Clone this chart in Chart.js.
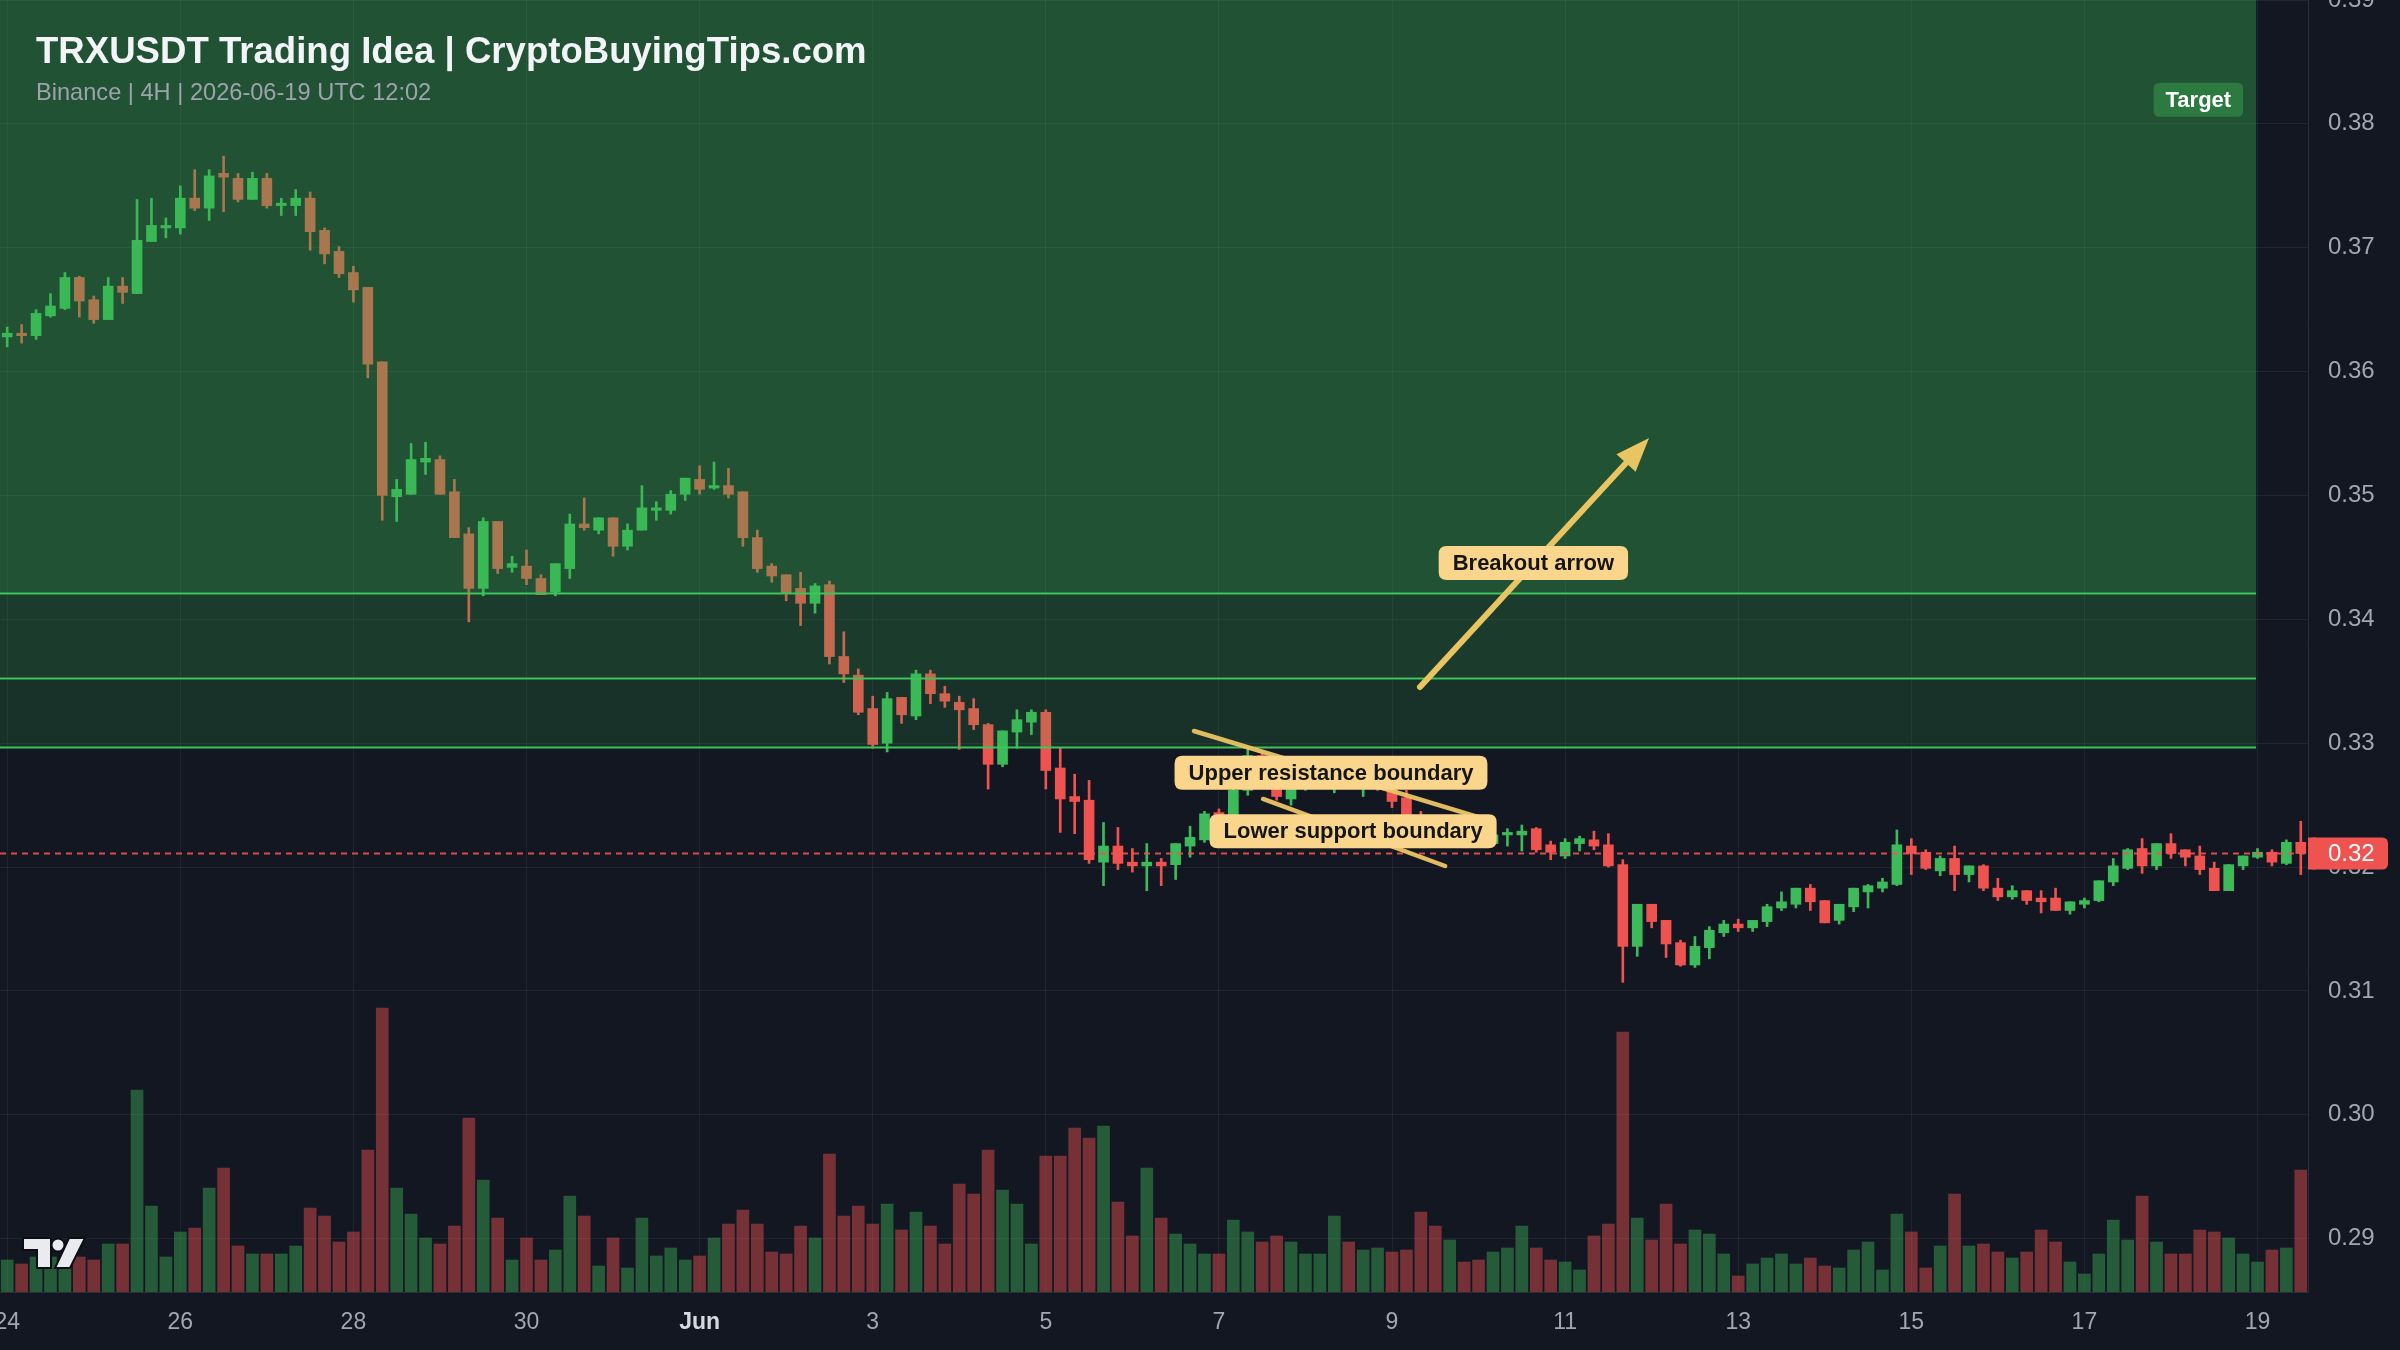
<!DOCTYPE html>
<html><head><meta charset="utf-8">
<script src="https://cdn.jsdelivr.net/npm/chart.js@4.4.1/dist/chart.umd.min.js"></script>
<style>html,body{margin:0;padding:0;background:#131722;overflow:hidden}#wrap{width:2400px;height:1350px;position:relative}canvas{display:block}</style>
</head><body><div id="wrap"><canvas id="c" width="2400" height="1350"></canvas></div>
<script>
// ---------- DATA ----------
const startUTC = Date.UTC(2026, 4, 24, 0, 0); // first 4H candle
const open = [
0.3628,0.3631,0.3629,0.3645,0.3651,0.3676,0.3658,0.3642,0.3669,0.3663,
0.3705,0.3716,0.3716,0.3740,0.3732,0.3760,0.3756,0.3739,0.3756,0.3734,
0.3734,0.3740,0.3714,0.3697,0.3680,0.3668,0.3608,0.3499,0.3501,0.3527,
0.3529,0.3503,0.3469,0.3425,0.3479,0.3442,0.3443,0.3433,0.3422,0.3441,
0.3477,0.3472,0.3482,0.3459,0.3472,0.3488,0.3488,0.3501,0.3513,0.3506,
0.3508,0.3503,0.3466,0.3443,0.3436,0.3425,0.3413,0.3428,0.3370,0.3355,
0.3328,0.3300,0.3337,0.3322,0.3356,0.3340,0.3333,0.3328,0.3315,0.3283,
0.3309,0.3317,0.3325,0.3280,0.3257,0.3254,0.3204,0.3217,0.3204,0.3201,
0.3204,0.3202,0.3217,0.3222,0.3244,0.3230,0.3262,0.3290,0.3278,0.3255,
0.3270,0.3274,0.3272,0.3278,0.3268,0.3272,0.3270,0.3256,0.3236,0.3227,
0.3221,0.3228,0.3223,0.3219,0.3226,0.3226,0.3231,0.3218,0.3209,0.3219,
0.3222,0.3218,0.3202,0.3136,0.3170,0.3157,0.3139,0.3121,0.3135,0.3147,
0.3154,0.3151,0.3156,0.3167,0.3170,0.3183,0.3173,0.3157,0.3168,0.3180,
0.3183,0.3186,0.3217,0.3212,0.3197,0.3207,0.3194,0.3201,0.3183,0.3176,
0.3181,0.3175,0.3175,0.3165,0.3170,0.3173,0.3188,0.3199,0.3215,0.3201,
0.3219,0.3214,0.3209,0.3199,0.3181,0.3201,0.3208,0.3212,0.3203,0.3220];
const high = [
0.3636,0.3638,0.3650,0.3663,0.3680,0.3677,0.3661,0.3676,0.3676,0.3739,
0.3740,0.3724,0.3750,0.3763,0.3763,0.3774,0.3760,0.3761,0.3760,0.3740,
0.3747,0.3745,0.3716,0.3701,0.3685,0.3668,0.3608,0.3513,0.3542,0.3543,
0.3532,0.3513,0.3474,0.3482,0.3479,0.3451,0.3456,0.3436,0.3445,0.3485,
0.3498,0.3482,0.3482,0.3477,0.3508,0.3495,0.3504,0.3514,0.3524,0.3527,
0.3522,0.3503,0.3472,0.3445,0.3436,0.3438,0.3429,0.3431,0.3390,0.3360,
0.3338,0.3341,0.3337,0.3359,0.3359,0.3346,0.3338,0.3336,0.3316,0.3310,
0.3327,0.3327,0.3327,0.3296,0.3275,0.3270,0.3236,0.3232,0.3215,0.3219,
0.3207,0.3219,0.3233,0.3245,0.3247,0.3268,0.3296,0.3294,0.3282,0.3280,
0.3283,0.3285,0.3284,0.3283,0.3281,0.3282,0.3274,0.3262,0.3245,0.3232,
0.3233,0.3231,0.3227,0.3230,0.3231,0.3234,0.3232,0.3221,0.3223,0.3225,
0.3229,0.3227,0.3206,0.3170,0.3170,0.3157,0.3141,0.3144,0.3152,0.3157,
0.3158,0.3157,0.3170,0.3180,0.3183,0.3186,0.3173,0.3170,0.3183,0.3186,
0.3191,0.3230,0.3223,0.3214,0.3209,0.3217,0.3201,0.3202,0.3191,0.3185,
0.3181,0.3181,0.3183,0.3172,0.3175,0.3189,0.3207,0.3215,0.3223,0.3219,
0.3227,0.3214,0.3217,0.3204,0.3202,0.3209,0.3215,0.3214,0.3222,0.3237];
const low = [
0.3620,0.3623,0.3626,0.3644,0.3650,0.3644,0.3639,0.3642,0.3655,0.3663,
0.3705,0.3708,0.3711,0.3730,0.3722,0.3729,0.3737,0.3739,0.3732,0.3726,
0.3726,0.3698,0.3687,0.3676,0.3656,0.3595,0.3480,0.3479,0.3501,0.3517,
0.3501,0.3466,0.3398,0.3419,0.3437,0.3438,0.3428,0.3420,0.3419,0.3433,
0.3472,0.3469,0.3451,0.3456,0.3472,0.3480,0.3485,0.3496,0.3501,0.3505,
0.3498,0.3459,0.3438,0.3430,0.3415,0.3395,0.3405,0.3364,0.3349,0.3323,
0.3296,0.3293,0.3316,0.3319,0.3332,0.3329,0.3295,0.3311,0.3263,0.3281,
0.3296,0.3307,0.3263,0.3228,0.3227,0.3203,0.3185,0.3198,0.3196,0.3181,
0.3185,0.3190,0.3208,0.3220,0.3225,0.3226,0.3258,0.3273,0.3254,0.3250,
0.3262,0.3268,0.3260,0.3266,0.3257,0.3262,0.3248,0.3232,0.3220,0.3217,
0.3218,0.3219,0.3216,0.3217,0.3217,0.3213,0.3212,0.3206,0.3207,0.3213,
0.3214,0.3200,0.3107,0.3128,0.3151,0.3127,0.3120,0.3119,0.3126,0.3144,
0.3148,0.3148,0.3152,0.3165,0.3167,0.3165,0.3155,0.3154,0.3164,0.3167,
0.3180,0.3185,0.3194,0.3198,0.3193,0.3181,0.3188,0.3181,0.3173,0.3174,
0.3170,0.3163,0.3165,0.3162,0.3167,0.3172,0.3185,0.3198,0.3195,0.3198,
0.3207,0.3201,0.3194,0.3181,0.3181,0.3198,0.3207,0.3201,0.3202,0.3194];
const close = [
0.3631,0.3629,0.3647,0.3653,0.3676,0.3657,0.3642,0.3669,0.3664,0.3706,
0.3718,0.3718,0.3740,0.3732,0.3758,0.3757,0.3739,0.3756,0.3734,0.3736,
0.3740,0.3713,0.3695,0.3679,0.3666,0.3606,0.3500,0.3505,0.3529,0.3530,
0.3501,0.3466,0.3425,0.3479,0.3441,0.3445,0.3433,0.3420,0.3445,0.3477,
0.3474,0.3482,0.3459,0.3472,0.3490,0.3490,0.3501,0.3514,0.3505,0.3508,
0.3501,0.3466,0.3441,0.3435,0.3421,0.3413,0.3427,0.3370,0.3356,0.3325,
0.3299,0.3336,0.3323,0.3356,0.3340,0.3334,0.3327,0.3315,0.3283,0.3310,
0.3319,0.3325,0.3278,0.3255,0.3253,0.3206,0.3217,0.3203,0.3201,0.3204,
0.3201,0.3219,0.3224,0.3243,0.3228,0.3262,0.3290,0.3278,0.3257,0.3275,
0.3277,0.3279,0.3278,0.3272,0.3276,0.3277,0.3253,0.3236,0.3226,0.3221,
0.3228,0.3223,0.3219,0.3226,0.3228,0.3229,0.3214,0.3212,0.3220,0.3223,
0.3217,0.3201,0.3136,0.3170,0.3156,0.3138,0.3121,0.3136,0.3149,0.3154,
0.3151,0.3157,0.3168,0.3172,0.3183,0.3172,0.3155,0.3170,0.3183,0.3185,
0.3188,0.3218,0.3211,0.3199,0.3207,0.3194,0.3201,0.3183,0.3176,0.3181,
0.3173,0.3172,0.3165,0.3172,0.3173,0.3189,0.3201,0.3214,0.3201,0.3219,
0.3211,0.3208,0.3198,0.3181,0.3202,0.3209,0.3212,0.3204,0.3220,0.3211];
const volume = [ // millions TRX (est.)
3.2,2.8,3.5,3.5,3.3,3.5,3.2,4.8,4.8,20.2,
8.6,3.5,6.0,6.4,10.4,12.4,4.6,3.8,3.8,3.8,
4.6,8.4,7.6,5.0,6.0,14.2,28.4,10.4,7.8,5.4,
4.8,6.6,17.4,11.2,7.4,3.2,5.4,3.2,4.2,9.6,
7.6,2.6,5.4,2.4,7.4,3.6,4.4,3.2,3.6,5.4,
6.8,8.2,6.8,4.0,3.8,6.6,5.4,13.8,7.6,8.6,
6.8,8.8,6.2,8.0,6.6,4.8,10.8,9.8,14.2,10.2,
8.8,4.8,13.6,13.6,16.4,15.4,16.6,9.0,5.6,12.4,
7.4,5.8,4.8,3.8,3.8,7.2,6.0,5.0,5.6,5.0,
3.8,3.8,7.6,5.0,4.2,4.4,4.0,4.2,8.0,6.6,
5.2,3.0,3.2,4.0,4.4,6.6,4.4,3.2,3.0,2.2,
5.6,6.8,26.0,7.4,5.2,8.8,4.8,6.2,5.8,3.8,
1.6,2.8,3.4,3.8,2.8,3.4,2.6,2.4,4.2,5.0,
2.2,7.8,6.0,2.4,4.6,9.8,4.6,4.8,4.0,3.4,
4.0,6.2,5.0,3.0,1.8,3.8,7.2,5.2,9.6,5.0,
3.8,3.8,6.2,6.0,5.4,3.8,3.0,4.2,4.4,12.2];
const dayTickLabels = ['24','26','28','30','Jun','3','5','7','9','11','13','15','17','19'];
const priceTicks = [0.29,0.30,0.31,0.32,0.33,0.34,0.35,0.36,0.37,0.38,0.39];
const priceRange = [0.2857, 0.39];
const volumeMax = 129.2;
// zones / levels / annotations (data coordinates: candle index, price)
const zoneBands = [[0.3421, 0.39], [0.3353, 0.3421], [0.3297, 0.3353]];
const levelLines = [0.3421, 0.3353, 0.3297];
const zoneEndIndex = 155.9;
const targetLabel = {text:'Target', at:[151.9, 0.38195]};
const boundaryLines = [[[82.27,0.33099],[102.45,0.32388]], [[87.06,0.32550],[99.68,0.32009]]];
const breakoutArrow = [[97.94,0.33454],[113.82,0.35464]];
const noteLabels = [
  {text:'Breakout arrow', at:[105.8,0.34455]},
  {text:'Upper resistance boundary', at:[91.77,0.32762]},
  {text:'Lower support boundary', at:[93.3,0.32290]}
];
const titleText = 'TRXUSDT Trading Idea | CryptoBuyingTips.com';
const subtitleText = 'Binance | 4H | 2026-06-19 UTC 12:02';

// ---------- BUILD ----------
const FONT = '"Liberation Sans", Arial, Helvetica, sans-serif';
const N = open.length;
const timeLabels = Array.from({length:N}, (_,i)=> new Date(startUTC + i*4*3600e3).toISOString().slice(0,16).replace('T',' '));
const UP = '#3dbb5a', DOWN = '#ef5350';
const isUp = open.map((o,i)=> close[i] >= o);
const candleColors = isUp.map(u=> u ? UP : DOWN);
const volColors = isUp.map(u=> u ? 'rgba(61,187,90,0.42)' : 'rgba(239,83,80,0.45)');
const zoneAlphas = [0.38, 0.23, 0.17];

function roundRect(ctx, x, y, w, h, r){
  ctx.beginPath();
  ctx.moveTo(x+r, y); ctx.lineTo(x+w-r, y); ctx.quadraticCurveTo(x+w, y, x+w, y+r);
  ctx.lineTo(x+w, y+h-r); ctx.quadraticCurveTo(x+w, y+h, x+w-r, y+h);
  ctx.lineTo(x+r, y+h); ctx.quadraticCurveTo(x, y+h, x, y+h-r);
  ctx.lineTo(x, y+r); ctx.quadraticCurveTo(x, y, x+r, y); ctx.closePath();
}

const overlay = {
  id:'overlay',
  afterDatasetsDraw(chart){
    const {ctx, chartArea:a, scales:{x, y}} = chart;
    const px = v => x.getPixelForValue(v), py = v => y.getPixelForValue(v);
    const xEnd = px(zoneEndIndex);
    ctx.save();
    ctx.beginPath(); ctx.rect(a.left, a.top, a.right-a.left, a.bottom-a.top); ctx.clip();
    zoneBands.forEach((b,i)=>{
      ctx.fillStyle = `rgba(56,180,80,${zoneAlphas[i]})`;
      const y1 = py(b[1]), y2 = py(b[0]);
      ctx.fillRect(a.left, y1, xEnd-a.left, y2-y1);
    });
    ctx.strokeStyle = '#3fc45c'; ctx.lineWidth = 2;
    levelLines.forEach(p=>{ const yy = Math.round(py(p))+0.5; ctx.beginPath(); ctx.moveTo(a.left, yy); ctx.lineTo(xEnd, yy); ctx.stroke(); });
    const lastY = Math.round(py(close[N-1]))+0.5;
    ctx.strokeStyle = 'rgba(239,83,80,0.9)'; ctx.lineWidth = 2; ctx.setLineDash([6,5]);
    ctx.beginPath(); ctx.moveTo(a.left, lastY); ctx.lineTo(a.right, lastY); ctx.stroke();
    ctx.setLineDash([]);
    ctx.font = `bold 22px ${FONT}`;
    let tw = ctx.measureText(targetLabel.text).width;
    let cx = px(targetLabel.at[0]), cy = py(targetLabel.at[1]);
    ctx.fillStyle = '#2c7a40'; roundRect(ctx, cx-tw/2-12, cy-17, tw+24, 34, 6); ctx.fill();
    ctx.fillStyle = '#ffffff'; ctx.textAlign='center'; ctx.textBaseline='middle'; ctx.fillText(targetLabel.text, cx, cy+1);
    ctx.strokeStyle = 'rgba(236,196,100,0.95)'; ctx.lineWidth = 4.5; ctx.lineCap = 'round';
    boundaryLines.forEach(l=>{ ctx.beginPath(); ctx.moveTo(px(l[0][0]), py(l[0][1])); ctx.lineTo(px(l[1][0]), py(l[1][1])); ctx.stroke(); });
    const ax0 = px(breakoutArrow[0][0]), ay0 = py(breakoutArrow[0][1]);
    const ax1 = px(breakoutArrow[1][0]), ay1 = py(breakoutArrow[1][1]);
    const ang = Math.atan2(ay1-ay0, ax1-ax0), hl = 34, hw = 13;
    const bx = ax1 - hl*Math.cos(ang), by = ay1 - hl*Math.sin(ang);
    ctx.strokeStyle = '#e8c462'; ctx.lineWidth = 6;
    ctx.beginPath(); ctx.moveTo(ax0, ay0); ctx.lineTo(bx, by); ctx.stroke();
    ctx.fillStyle = '#e8c462';
    ctx.beginPath(); ctx.moveTo(ax1, ay1);
    ctx.lineTo(bx + hw*Math.sin(ang), by - hw*Math.cos(ang));
    ctx.lineTo(bx - hw*Math.sin(ang), by + hw*Math.cos(ang)); ctx.closePath(); ctx.fill();
    ctx.font = `bold 22px ${FONT}`;
    noteLabels.forEach(n=>{
      const w = ctx.measureText(n.text).width;
      const lx = px(n.at[0]), ly = py(n.at[1]);
      ctx.fillStyle = '#f9d68c'; roundRect(ctx, lx-w/2-14, ly-17, w+28, 34, 8); ctx.fill();
      ctx.fillStyle = '#151515'; ctx.textAlign='center'; ctx.textBaseline='middle'; ctx.fillText(n.text, lx, ly+1);
    });
    ctx.restore();
    ctx.save();
    const ty = py(close[N-1]);
    ctx.fillStyle = '#ef5350';
    roundRect(ctx, a.right, ty-16, 80, 32, 6); ctx.fill();
    ctx.fillRect(a.right, ty-16, 8, 32);
    ctx.fillStyle = '#ffffff'; ctx.font = `24px ${FONT}`; ctx.textAlign='left'; ctx.textBaseline='middle';
    ctx.fillText(close[N-1].toFixed(2), a.right+20, ty+1);
    ctx.restore();
  },
  afterDraw(chart){
    const {ctx} = chart;
    ctx.save();
    ctx.textAlign='left'; ctx.textBaseline='alphabetic';
    ctx.fillStyle = '#f2f4f8'; ctx.font = `bold 36.6px ${FONT}`;
    ctx.fillText(titleText, 36, 63);
    ctx.fillStyle = '#9ea3ae'; ctx.font = `23.6px ${FONT}`;
    ctx.fillText(subtitleText, 36, 100);
    ctx.fillStyle = '#e9ebef'; ctx.strokeStyle = '#0b0e14'; ctx.lineWidth = 2;
    ctx.beginPath(); ctx.moveTo(23,1238); ctx.lineTo(51,1238); ctx.lineTo(51,1268); ctx.lineTo(37,1268); ctx.lineTo(37,1250); ctx.lineTo(23,1250); ctx.closePath(); ctx.fill(); ctx.stroke();
    ctx.beginPath(); ctx.arc(58,1245,6.5,0,Math.PI*2); ctx.fill(); ctx.stroke();
    ctx.beginPath(); ctx.moveTo(69,1238); ctx.lineTo(85,1238); ctx.lineTo(70,1268); ctx.lineTo(55,1268); ctx.closePath(); ctx.fill(); ctx.stroke();
    ctx.restore();
  }
};

new Chart(document.getElementById('c'), {
  type:'bar',
  data:{ labels: timeLabels, datasets:[
    {label:'Volume', data: volume, yAxisID:'yv', backgroundColor: volColors, barThickness:12, grouped:false, order:3},
    {label:'Wick', data: low.map((l,i)=>[l, high[i]]), yAxisID:'y', backgroundColor: candleColors, barThickness:2, grouped:false, order:2},
    {label:'Body', data: open.map((o,i)=>[o, close[i]]), yAxisID:'y', backgroundColor: candleColors, barThickness:10, minBarLength:2, grouped:false, order:1}
  ]},
  options:{
    responsive:false, devicePixelRatio:1, animation:false, events:[],
    layout:{padding:0},
    plugins:{legend:{display:false}, tooltip:{enabled:false}, title:{display:false}},
    scales:{
      x:{ type:'category', offset:true,
          grid:{offset:false, color:'rgba(255,255,255,0.06)', drawTicks:false},
          border:{color:'#2a2e39'},
          ticks:{autoSkip:false, maxRotation:0, padding:17,
            color:(c)=> (c.tick && c.tick.label==='Jun') ? '#d6d9e0' : '#a3a6af',
            font:(c)=> ({family:FONT, size:23, weight:(c.tick && c.tick.label==='Jun') ? 'bold' : 'normal'}),
            callback:(v)=> dayTickLabels[v/12]},
          afterBuildTicks:(s)=>{ s.ticks = s.ticks.filter(t=> t.value % 12 === 0); },
          afterFit:(s)=>{ s.height = 58; s.paddingLeft = 0; s.paddingRight = 0; } },
      y:{ position:'right', min:priceRange[0], max:priceRange[1],
          grid:{color:'rgba(255,255,255,0.06)', drawTicks:false},
          border:{color:'#2a2e39'},
          ticks:{padding:20, color:'#a3a6af', font:{family:FONT, size:24}, callback:(v)=> v.toFixed(2)},
          afterBuildTicks:(s)=>{ s.ticks = priceTicks.map(v=>({value:v})); },
          afterFit:(s)=>{ s.width = 92; s.paddingTop = 0; s.paddingBottom = 0; } },
      yv:{ display:false, min:0, max:volumeMax }
    }
  },
  plugins:[overlay]
});
</script></body></html>
